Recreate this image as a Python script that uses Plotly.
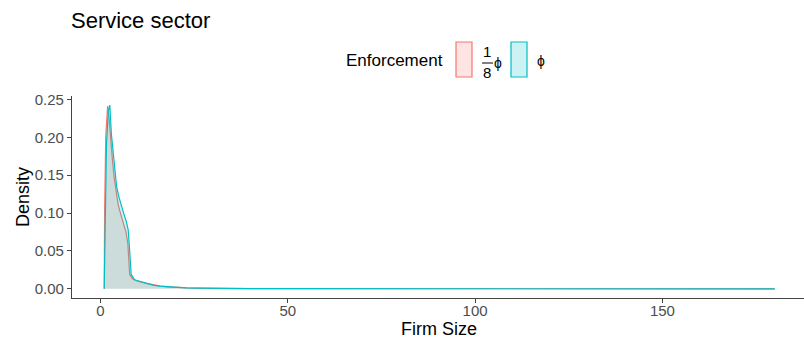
import plotly.graph_objects as go

# ---- data ----
series_names = ["1/8 phi", "phi"]
x_eighth = [1.0, 1.1, 1.4, 1.9, 2.3, 2.7, 3.2, 3.7, 4.2, 4.7, 5.1, 6.0, 6.8, 7.3, 7.8,
            8.6, 10.0, 12.0, 14.0, 16.0, 18.0, 20.0, 23.0, 26.0, 30.0, 35.0, 40.0,
            50.0, 60.0, 80.0, 100.0, 130.0, 160.0, 180.0]
y_eighth = [0.0, 0.10, 0.20, 0.2415, 0.225, 0.195, 0.17, 0.145, 0.125, 0.112, 0.104,
            0.087, 0.075, 0.06, 0.019, 0.013, 0.010, 0.0075, 0.005, 0.0035, 0.0025,
            0.0018, 0.0012, 0.0009, 0.0006, 0.0004, 0.0003, 0.0002, 0.00012, 0.00008,
            0.00005, 0.00003, 0.00002, 0.00001]
x_full = [1.0, 1.2, 1.6, 2.1, 2.5, 2.9, 3.4, 3.9, 4.3, 5.0, 5.6, 6.3, 6.9, 7.4, 7.8,
          8.2, 9.1, 10.5, 12.2, 14.0, 15.8, 18.0, 20.0, 23.0, 26.0, 30.0, 35.0, 40.0,
          50.0, 60.0, 80.0, 100.0, 130.0, 160.0, 180.0]
y_full = [0.0, 0.08, 0.19, 0.235, 0.2425, 0.205, 0.179, 0.155, 0.135, 0.12, 0.109,
          0.098, 0.089, 0.078, 0.05, 0.019, 0.012, 0.010, 0.008, 0.005, 0.0035, 0.0025,
          0.0018, 0.0012, 0.0009, 0.0006, 0.0004, 0.0003, 0.0002, 0.00012, 0.00008,
          0.00005, 0.00003, 0.00002, 0.00001]
x_ticks = [0, 50, 100, 150]
y_ticks = [0.0, 0.05, 0.10, 0.15, 0.20, 0.25]
y_tick_labels = ["0.00", "0.05", "0.10", "0.15", "0.20", "0.25"]

RED = "#F8766D"
CYAN = "#00BFC4"
FONT = "Liberation Sans, Arial, sans-serif"
PHI = "\u03d5"

fig = go.Figure()
fig.add_trace(go.Scatter(x=x_eighth, y=y_eighth, mode="lines", fill="tozeroy",
                         fillcolor="rgba(248,118,109,0.2)",
                         line=dict(color=RED, width=1.2), name=series_names[0],
                         showlegend=False))
fig.add_trace(go.Scatter(x=x_full, y=y_full, mode="lines", fill="tozeroy",
                         fillcolor="rgba(0,191,196,0.2)",
                         line=dict(color=CYAN, width=1.2), name=series_names[1],
                         showlegend=False))

W, H = 804, 341
L, R, T, B = 72, 0, 96, 43
pw, ph = W - L - R, H - T - B

def px(x):
    return (x - L) / pw

def py(y):
    return (H - B - y) / ph

axis_common = dict(showgrid=False, zeroline=False, showline=True, linecolor="#444",
                   linewidth=1.2, ticks="outside", ticklen=4, tickcolor="#444",
                   tickwidth=1.1, automargin=False,
                   tickfont=dict(family=FONT, size=15, color="#4D4D4D"))

fig.update_xaxes(range=[-7.6, 187.8], tickvals=x_ticks, ticklabelstandoff=-5,
                 **axis_common)
fig.update_yaxes(range=[-0.0121, 0.2546], tickvals=y_ticks, ticktext=y_tick_labels,
                 **axis_common)

ann = []
shapes = []
# axis titles
ann.append(dict(text="Firm Size", x=px(439), y=py(329), xref="paper", yref="paper",
                xanchor="center", yanchor="middle", showarrow=False,
                font=dict(family=FONT, size=18, color="black")))
ann.append(dict(text="Density", x=px(23), y=py(197), xref="paper", yref="paper",
                xanchor="center", yanchor="middle", showarrow=False, textangle=-90,
                font=dict(family=FONT, size=18, color="black")))
ann.append(dict(text="Enforcement", x=px(445), y=py(60), xref="paper", yref="paper",
                xanchor="right", yanchor="middle", showarrow=False,
                font=dict(family=FONT, size=17, color="black")))
# legend keys
shapes.append(dict(type="rect", xref="paper", yref="paper", x0=px(456), x1=px(472),
                   y0=py(77), y1=py(42), fillcolor="rgba(248,118,109,0.2)",
                   line=dict(color=RED, width=1.2)))
shapes.append(dict(type="rect", xref="paper", yref="paper", x0=px(511), x1=px(527),
                   y0=py(77), y1=py(42), fillcolor="rgba(0,191,196,0.2)",
                   line=dict(color=CYAN, width=1.2)))
# fraction label 1/8 phi
ann.append(dict(text="1", x=px(487), y=py(51), xref="paper", yref="paper",
                xanchor="center", yanchor="middle", showarrow=False,
                font=dict(family=FONT, size=15, color="black")))
ann.append(dict(text="8", x=px(487), y=py(73), xref="paper", yref="paper",
                xanchor="center", yanchor="middle", showarrow=False,
                font=dict(family=FONT, size=15, color="black")))
shapes.append(dict(type="line", xref="paper", yref="paper", x0=px(482), x1=px(493),
                   y0=py(63), y1=py(63), line=dict(color="black", width=1)))
ann.append(dict(text=PHI, x=px(492), y=py(63), xref="paper", yref="paper",
                xanchor="left", yanchor="middle", showarrow=False,
                font=dict(family=FONT, size=14, color="black")))
ann.append(dict(text=PHI, x=px(535), y=py(61), xref="paper", yref="paper",
                xanchor="left", yanchor="middle", showarrow=False,
                font=dict(family=FONT, size=14, color="black")))

fig.update_layout(
    width=W, height=H,
    margin=dict(l=L, r=R, t=T, b=B, pad=0, autoexpand=False),
    paper_bgcolor="white", plot_bgcolor="white",
    title=dict(text="Service sector", x=71 / W, xanchor="left",
               y=1 - 20 / H, yanchor="middle", xref="container", yref="container",
               font=dict(family=FONT, size=22, color="black")),
    annotations=ann, shapes=shapes,
    showlegend=False,
)

fig.write_html("out.html", config={"displayModeBar": False},
               post_script="document.body.style.margin='0';document.body.style.overflow='hidden';")
